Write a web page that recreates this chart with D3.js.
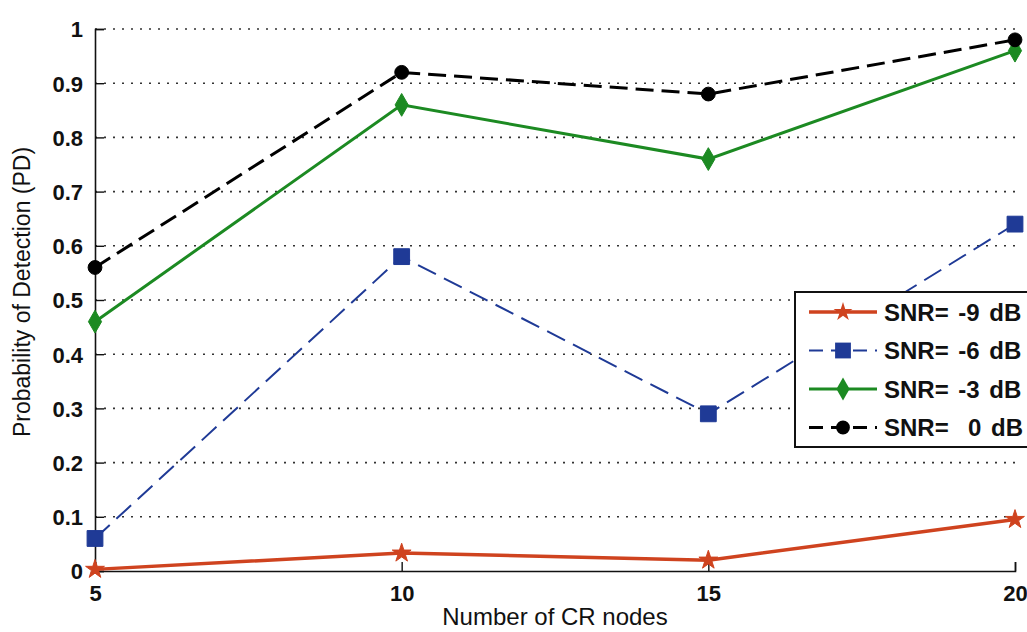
<!DOCTYPE html>
<html>
<head>
<meta charset="utf-8">
<script src="https://cdn.jsdelivr.net/npm/d3@7"></script>
<style>
  body { margin: 0; background: #fff; overflow: hidden; }
  text { font-family: "Liberation Sans", Arial, sans-serif; }
</style>
</head>
<body>
<div id="chart"></div>
<script>
// Data
const nodes = [5, 10, 15, 20];
const snrLabels = ["SNR= -9 dB", "SNR= -6 dB", "SNR= -3 dB", "SNR=  0 dB"];
const pdMinus9 = [0.003, 0.033, 0.02, 0.095];
const pdMinus6 = [0.06, 0.58, 0.29, 0.64];
const pdMinus3 = [0.46, 0.86, 0.76, 0.96];
const pd0 = [0.56, 0.92, 0.88, 0.98];
const yTicks = [0, 0.1, 0.2, 0.3, 0.4, 0.5, 0.6, 0.7, 0.8, 0.9, 1];

const series = [
    {label: snrLabels[0], values: pdMinus9, color: "#cf431f", dash: null, width: 3.5, marker: d3.symbolStar, size: 110},
    {label: snrLabels[1], values: pdMinus6, color: "#1f3a96", dash: "20,9", width: 2, marker: d3.symbolSquare, size: 250},
    {label: snrLabels[2], values: pdMinus3, color: "#1c8a22", dash: null, width: 3, marker: d3.symbolDiamond, size: 150},
    {label: snrLabels[3], values: pd0, color: "#000000", dash: "18,8", width: 3, marker: d3.symbolCircle, size: 150}
];

const W = 1027, H = 632;
const margin = {top: 29, right: 12, bottom: 62, left: 95};

const svg = d3.select("#chart").append("svg")
    .attr("width", W)
    .attr("height", H);

const x = d3.scaleLinear().domain([5, 20]).range([margin.left, W - margin.right]);
const y = d3.scaleLinear().domain([0, 1]).range([H - margin.bottom + 1, margin.top]);

// Dotted grid
svg.append("g")
    .selectAll("line")
    .data(yTicks.slice(1))
    .enter().append("line")
    .attr("x1", x(5)).attr("x2", x(20))
    .attr("y1", d => y(d)).attr("y2", d => y(d))
    .attr("stroke", "#333")
    .attr("stroke-width", 1.6)
    .attr("stroke-dasharray", "2,7");

// Y axis (ticks pointing inward)
const yAxis = svg.append("g")
    .attr("transform", `translate(${x(5)},0)`)
    .call(d3.axisRight(y).tickValues(yTicks).tickSize(9).tickFormat(d3.format("")));
yAxis.select(".domain").attr("stroke", "#111").attr("stroke-width", 1.6);
yAxis.selectAll(".tick line").attr("stroke", "#111").attr("stroke-width", 1.4);
yAxis.selectAll(".tick text")
    .attr("x", -12)
    .attr("dy", "0.36em")
    .attr("text-anchor", "end")
    .style("font-size", "22px")
    .style("font-weight", "bold")
    .attr("fill", "#111");

// X axis (ticks pointing inward)
const xAxis = svg.append("g")
    .attr("transform", `translate(0,${y(0)})`)
    .call(d3.axisTop(x).tickValues(nodes).tickSize(9).tickFormat(d3.format("d")));
xAxis.select(".domain").attr("stroke", "#111").attr("stroke-width", 1.6);
xAxis.selectAll(".tick line").attr("stroke", "#111").attr("stroke-width", 1.4);
xAxis.selectAll(".tick text")
    .attr("y", 22)
    .attr("dy", "0.35em")
    .style("font-size", "22px")
    .style("font-weight", "bold")
    .attr("fill", "#111");

// Axis labels
svg.append("text")
    .attr("x", 555)
    .attr("y", 625)
    .attr("text-anchor", "middle")
    .style("font-size", "24px")
    .attr("fill", "#111")
    .text("Number of CR nodes");

svg.append("text")
    .attr("transform", "rotate(-90)")
    .attr("x", -292)
    .attr("y", 30)
    .attr("text-anchor", "middle")
    .style("font-size", "23px")
    .attr("fill", "#111")
    .text("Probability of Detection (PD)");

// Lines and markers
const line = d3.line()
    .x((d, i) => x(nodes[i]))
    .y(d => y(d));

series.forEach(s => {
    svg.append("path")
        .datum(s.values)
        .attr("fill", "none")
        .attr("stroke", s.color)
        .attr("stroke-width", s.width)
        .attr("stroke-dasharray", s.dash)
        .attr("d", line);

    svg.append("g")
        .selectAll("path")
        .data(s.values)
        .enter().append("path")
        .attr("transform", (d, i) => `translate(${x(nodes[i])},${y(d)})`)
        .attr("d", d3.symbol().type(s.marker).size(s.size))
        .attr("fill", s.color)
        .attr("stroke", s.color)
        .attr("stroke-width", 1);
});

// Legend
const legend = svg.append("g").attr("transform", "translate(795,292)");
legend.append("rect")
    .attr("x", 0).attr("y", 0)
    .attr("width", 260).attr("height", 155)
    .attr("fill", "#fff")
    .attr("stroke", "#111")
    .attr("stroke-width", 2);

series.forEach((s, i) => {
    const cy = 20 + i * 38.5;
    legend.append("line")
        .attr("x1", 14).attr("x2", 82)
        .attr("y1", cy).attr("y2", cy)
        .attr("stroke", s.color)
        .attr("stroke-width", s.width)
        .attr("stroke-dasharray", s.dash ? "14,8" : null);
    legend.append("path")
        .attr("transform", `translate(${48},${cy})`)
        .attr("d", d3.symbol().type(s.marker).size(s.size))
        .attr("fill", s.color);
    legend.append("text")
        .attr("x", 89)
        .attr("y", cy)
        .attr("dy", "0.36em")
        .attr("xml:space", "preserve")
        .style("white-space", "pre")
        .style("font-size", "24px")
        .style("font-weight", "bold")
        .style("word-spacing", "3px")
        .attr("fill", "#111")
        .text(s.label);
});
</script>
</body>
</html>
